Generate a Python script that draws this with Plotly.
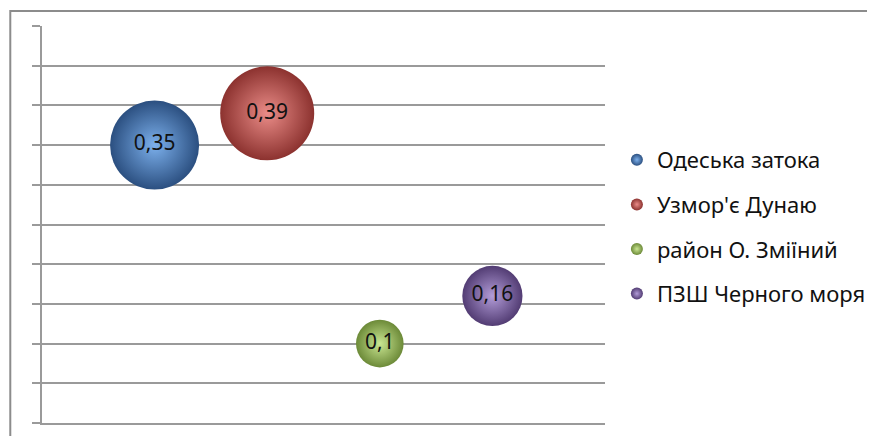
import plotly.graph_objects as go

# Data
series_names = ["Одеська затока", "Узмор'є Дунаю", "район О. Зміїний", "ПЗШ Черного моря"]
x_values = [1, 2, 3, 4]
y_values = [0.35, 0.39, 0.10, 0.16]
bubble_sizes = [0.35, 0.39, 0.10, 0.16]

# Styles
center_colors = ["#7cb0ec", "#ea8c88", "#cae692", "#b29cd8"]
edge_colors = ["#2b4f80", "#8c322f", "#6c8a38", "#523c73"]

max_diameter = 94
sizeref = 2 * max(bubble_sizes) / (max_diameter ** 2)

fig = go.Figure()
for i, name in enumerate(series_names):
    fig.add_trace(go.Scatter(
        x=[x_values[i]], y=[y_values[i]],
        mode="markers+text",
        name=name,
        legendgroup=f"g{i}",
        text=[f"{y_values[i]:g}".replace(".", ",")],
        textposition="middle center",
        textfont=dict(family="Noto Sans", size=21, color="#111111"),
        marker=dict(
            size=[bubble_sizes[i]], sizemode="area", sizeref=sizeref,
            color=edge_colors[i], opacity=1,
            gradient=dict(type="radial", color=center_colors[i]),
            line=dict(width=0),
        ),
        hoverinfo="skip",
    ))

grid_col = "#9a9a9a"
# page body has an 8px margin: plot area placed at window x 42..610, y 26..423
L, T, W, H = 34, 18, 568, 397
fig.update_layout(
    width=875, height=436,
    margin=dict(l=L, r=875 - L - W, t=T, b=436 - T - H),
    paper_bgcolor="white", plot_bgcolor="white",
    showlegend=True,
    legend=dict(
        x=(614 - L) / W, xanchor="left", y=(T + H - 131) / H, yanchor="top",
        font=dict(family="Noto Sans", size=22, color="#111111"),
        itemsizing="constant", tracegroupgap=13,
        traceorder="grouped", bgcolor="rgba(0,0,0,0)",
    ),
    xaxis=dict(range=[0, 5], showgrid=False, zeroline=False,
               showline=True, linecolor=grid_col, linewidth=1.5,
               showticklabels=False, ticks=""),
    yaxis=dict(range=[0, 0.5], dtick=0.05, showgrid=True, gridcolor=grid_col,
               gridwidth=1.5, zeroline=False, showline=True, linecolor=grid_col,
               linewidth=1.5, ticks="outside", ticklen=8, tickcolor=grid_col,
               tickwidth=1.5, showticklabels=False),
    shapes=[dict(type="rect", xref="paper", yref="paper",
                 x0=(2 - L) / W, x1=(890 - L) / W,
                 y0=(T + H - 450) / H, y1=(T + H - 3) / H,
                 line=dict(color="#8c8c8c", width=2), fillcolor="rgba(0,0,0,0)",
                 layer="below")],
)

fig.write_html("out.html")
